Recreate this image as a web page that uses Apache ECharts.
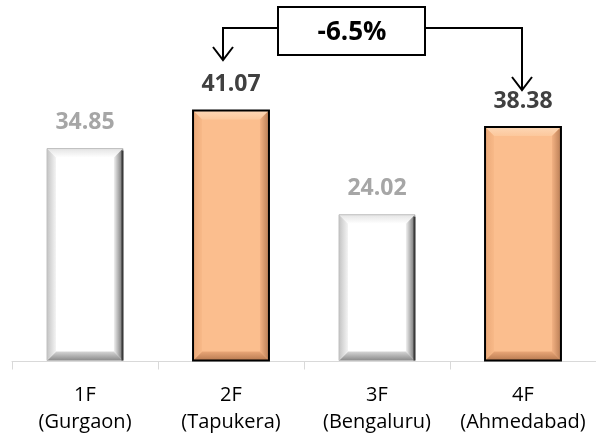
<!DOCTYPE html>
<html>
<head>
<meta charset="utf-8">
<script src="https://cdn.jsdelivr.net/npm/echarts@6/dist/echarts.min.js"></script>
<style>
  html, body { margin: 0; padding: 0; background: #fff; }
  #chart { width: 596px; height: 439px; }
</style>
</head>
<body>
<div id="chart"></div>
<script>
// Plant codes with their locations
const categories = ['1F\n(Gurgaon)', '2F\n(Tapukera)', '3F\n(Bengaluru)', '4F\n(Ahmedabad)'];
// Measured value per plant
const values = [34.85, 41.07, 24.02, 38.38];
// Plants that are compared against each other (orange bars)
const highlighted = [false, true, false, true];
// Change between the two compared plants
const changeLabel = '-6.5%';

const FONT = '"Open Sans", "Liberation Sans", sans-serif';

const palette = {
  plain: {
    face: '#ffffff',
    top: ['#e4e4e4', '#ffffff'],
    left: ['#c4c4c4', '#f4f4f4'],
    right: ['#f0f0f0', '#6e6e6e'],
    bottom: ['#d6d6d6', '#8a8a8a'],
    border: '#bdbdbd', borderWidth: 1,
    rightEdge: '#3a3a3a',
    label: '#a6a6a6'
  },
  marked: {
    face: '#fbbe8e',
    top: ['#fdd7b6', '#fcc89c'],
    left: ['#eaa878', '#f8b988'],
    right: ['#f3b283', '#b97d55'],
    bottom: ['#e9a677', '#b87a50'],
    border: '#000000', borderWidth: 2,
    rightEdge: null,
    label: '#404040'
  }
};

function grad(horizontal, stops) {
  return new echarts.graphic.LinearGradient(0, 0, horizontal ? 1 : 0, horizontal ? 0 : 1, [
    { offset: 0, color: stops[0] },
    { offset: 1, color: stops[1] }
  ]);
}

function renderBevelBar(params, api) {
  const idx = api.value(0);
  const val = api.value(1);
  const topPt = api.coord([idx, val]);
  const basePt = api.coord([idx, 0]);
  const band = api.size([1, 0])[0];
  const w = band * 0.52;
  const cx = topPt[0];
  const x0 = cx - w / 2, x1 = cx + w / 2;
  const y0 = topPt[1], y1 = basePt[1] - 1;
  const b = 9;
  const p = highlighted[idx] ? palette.marked : palette.plain;

  const children = [
    { type: 'rect', shape: { x: x0, y: y0, width: w, height: y1 - y0 }, style: { fill: p.face } },
    { type: 'polygon', shape: { points: [[x0, y0], [x1, y0], [x1 - b, y0 + b], [x0 + b, y0 + b]] }, style: { fill: grad(false, p.top) } },
    { type: 'polygon', shape: { points: [[x0, y1], [x1, y1], [x1 - b, y1 - b], [x0 + b, y1 - b]] }, style: { fill: grad(false, [p.bottom[0], p.bottom[1]]) } },
    { type: 'polygon', shape: { points: [[x0, y0], [x0 + b, y0 + b], [x0 + b, y1 - b], [x0, y1]] }, style: { fill: grad(true, p.left) } },
    { type: 'polygon', shape: { points: [[x1, y0], [x1 - b, y0 + b], [x1 - b, y1 - b], [x1, y1]] }, style: { fill: grad(true, p.right) } },
    { type: 'rect', shape: { x: x0, y: y0, width: w, height: y1 - y0 }, style: { fill: null, stroke: p.border, lineWidth: p.borderWidth } }
  ];
  if (p.rightEdge) {
    children.push({ type: 'line', shape: { x1: x1 - 0.5, y1: y0 + 2, x2: x1 - 0.5, y2: y1 }, style: { stroke: p.rightEdge, lineWidth: 2 } });
  }
  children.push({
    type: 'text',
    style: {
      text: val.toFixed(2),
      x: cx, y: y0 - 26,
      align: 'center', verticalAlign: 'middle',
      fontSize: 23, fontWeight: 'bold', fontFamily: FONT,
      fill: p.label
    }
  });
  return { type: 'group', children: children };
}

const chart = echarts.init(document.getElementById('chart'), null, { renderer: 'canvas' });

chart.setOption({
  backgroundColor: '#ffffff',
  animation: false,
  grid: { left: 12, right: 0, top: 56, bottom: 77.5, containLabel: false },
  xAxis: {
    type: 'category',
    data: categories,
    boundaryGap: true,
    axisLine: { show: true, lineStyle: { color: '#d9d9d9', width: 1 } },
    axisTick: { show: true, length: 8, lineStyle: { color: '#d9d9d9' } },
    axisLabel: {
      margin: 20, fontSize: 20, lineHeight: 27,
      fontFamily: FONT, color: '#000000', interval: 0
    },
    splitLine: { show: false }
  },
  yAxis: {
    type: 'value', min: 0, max: 50, show: false,
    splitLine: { show: false }
  },
  series: [{
    type: 'custom',
    renderItem: renderBevelBar,
    encode: { x: 0, y: 1 },
    data: values.map((v, i) => [i, v])
  }],
  graphic: [
    // connector from the box to the 2F label
    { type: 'polyline', shape: { points: [[277, 28], [223, 28], [223, 59]] }, style: { stroke: '#000', lineWidth: 2, fill: null } },
    { type: 'polyline', shape: { points: [[213, 47], [223, 60], [233, 47]] }, style: { stroke: '#000', lineWidth: 2, fill: null } },
    // connector from the box to the 4F label
    { type: 'polyline', shape: { points: [[425, 28], [522, 28], [522, 89]] }, style: { stroke: '#000', lineWidth: 2, fill: null } },
    { type: 'polyline', shape: { points: [[512, 77], [522, 90], [532, 77]] }, style: { stroke: '#000', lineWidth: 2, fill: null } },
    // change box
    { type: 'rect', shape: { x: 278, y: 7, width: 147, height: 48 }, style: { fill: '#ffffff', stroke: '#000', lineWidth: 2 } },
    { type: 'text', style: { text: changeLabel, x: 352, y: 33, align: 'center', verticalAlign: 'middle', fontSize: 26, fontWeight: 'bold', fontFamily: FONT, fill: '#000' } }
  ]
});
</script>
</body>
</html>
